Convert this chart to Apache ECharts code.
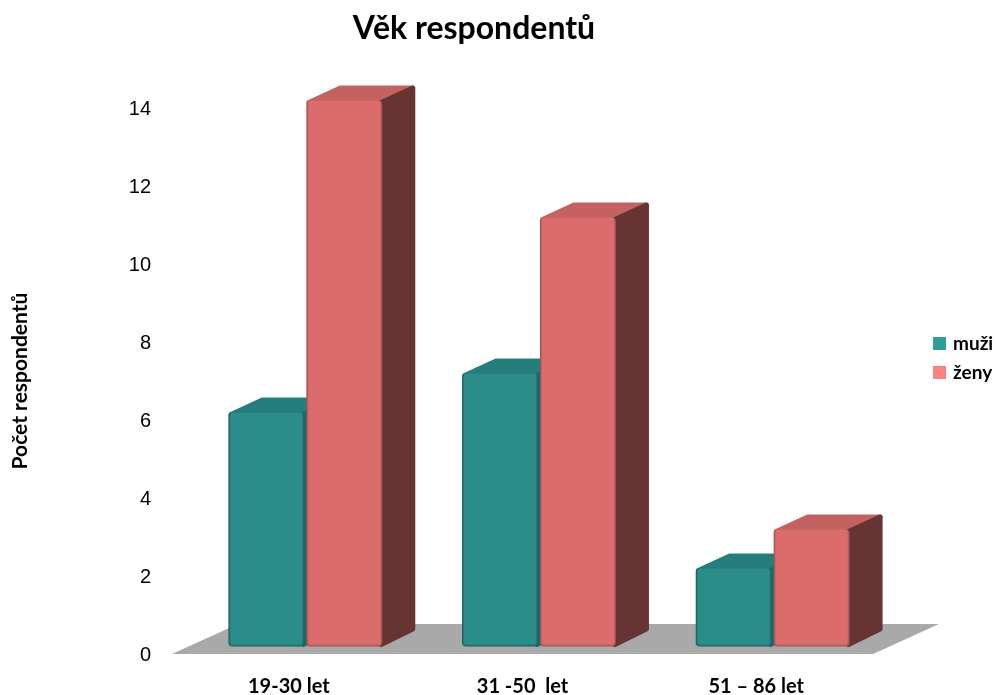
<!DOCTYPE html>
<html>
<head>
<meta charset="utf-8">
<style>html,body{margin:0;padding:0;background:#fff}#chart{width:996px;height:695px}</style>
<script src="https://cdn.jsdelivr.net/npm/echarts@6/dist/echarts.min.js"></script>
</head>
<body>
<div id="chart"></div>
<script>
// Age groups and respondent counts
const categories = ['19-30 let', '31 -50  let', '51 – 86 let'];
const muzi = [6, 7, 2];
const zeny = [14, 11, 3];
const yTicks = [0, 14, 2];

// Oblique projection of the depth axis
const FLOOR_DX = 66, FLOOR_DY = 30;
const BAR_DX = 33, BAR_DY = 15;
const BAR_RATIO = 0.325;

const palette = {
  muzi: { legend: '#2F9E9B', face: '#2B8C8A', mid: '#26797A', edge: '#1F6162', top: '#267E7C', side: '#1F6A69' },
  zeny: { legend: '#FF8080', face: '#DC6C6C', mid: '#C46262', edge: '#9E5252', top: '#C46262', side: '#663432' }
};

// Draws one 3D-looking column: top and side faces, then a bevelled front
function columnRenderer(colors, slot) {
  return function (params, api) {
    const catWidth = api.size([1, 0])[0];
    const barWidth = catWidth * BAR_RATIO;
    const gap = 1;
    const base = api.coord([api.value(0), 0]);
    const head = api.coord([api.value(0), api.value(1)]);
    const cx = base[0] + FLOOR_DX / 4;
    const x0 = slot === 0 ? cx - gap - barWidth : cx + gap;
    const x1 = x0 + barWidth;
    const yb = base[1] - FLOOR_DY / 4;
    const yt = head[1] - FLOOR_DY / 4;
    const round = { lineJoin: 'round', lineWidth: 5 };
    const frontLayer = (inset, fill, r) => ({
      type: 'rect',
      shape: { x: x0 + inset, y: yt, width: barWidth - inset * 2, height: yb - yt - inset, r: r },
      style: { fill: fill }
    });
    return {
      type: 'group',
      children: [
        {
          type: 'polygon',
          shape: { points: [[x0 + 2.5, yt + 2], [x0 + BAR_DX + 1, yt - BAR_DY + 2.5], [x1 + BAR_DX - 2.5, yt - BAR_DY + 2.5], [x1, yt + 2]] },
          style: Object.assign({ fill: colors.top, stroke: colors.top }, round)
        },
        {
          type: 'polygon',
          shape: { points: [[x1 - 1, yt + 2], [x1 + BAR_DX - 2.5, yt - BAR_DY + 2.5], [x1 + BAR_DX - 2.5, yb - BAR_DY - 2.5], [x1 - 1, yb - 2]] },
          style: Object.assign({ fill: colors.side, stroke: colors.side }, round)
        },
        frontLayer(0, colors.edge, 4),
        frontLayer(1, colors.mid, 3),
        frontLayer(2, colors.face, 2)
      ]
    };
  };
}

// Grey parallelogram the columns stand on, spanning the plot width
function floorRenderer(params) {
  const g = params.coordSys;
  const yb = g.y + g.height;
  const xl = g.x, xr = g.x + g.width;
  return {
    type: 'polygon',
    shape: { points: [[xl, yb], [xr, yb], [xr + FLOOR_DX, yb - FLOOR_DY], [xl + FLOOR_DX, yb - FLOOR_DY]] },
    style: { fill: '#A9A9A9' }
  };
}

const chart = echarts.init(document.getElementById('chart'), null, { renderer: 'canvas' });
chart.setOption({
  animation: false,
  backgroundColor: '#ffffff',
  title: {
    text: 'Věk respondentů',
    left: 469, top: 8, textAlign: 'center',
    textStyle: { fontFamily: 'Lato', fontWeight: 'bold', fontSize: 32, color: '#000' }
  },
  legend: {
    orient: 'vertical',
    left: 933, top: 334, padding: 0,
    itemWidth: 13, itemHeight: 13, itemGap: 10,
    icon: 'rect',
    data: ['muži', 'ženy'],
    textStyle: { fontFamily: 'Lato', fontWeight: 'bold', fontSize: 19, color: '#000', padding: [0, 0, 0, 2] }
  },
  grid: { left: 172, top: 108, width: 701, height: 546, outerBoundsMode: 'none' },
  xAxis: {
    type: 'category',
    data: categories,
    axisLine: { show: false },
    axisTick: { show: false },
    axisLabel: { fontFamily: 'Lato', fontWeight: 'bold', fontSize: 20, color: '#000', margin: 23 }
  },
  yAxis: {
    type: 'value',
    min: yTicks[0], max: yTicks[1], interval: yTicks[2],
    name: 'Počet respondentů',
    nameLocation: 'middle',
    nameGap: 141,
    nameTextStyle: { fontFamily: 'Lato', fontWeight: 'bold', fontSize: 21, color: '#000' },
    axisLine: { show: false },
    axisTick: { show: false },
    splitLine: { show: false },
    axisLabel: {
      color: '#000', margin: 21,
      formatter: '{v|{value}}',
      rich: { v: { fontFamily: 'Liberation Sans', fontSize: 20, color: '#000', padding: [3, 0, 0, 0] } }
    }
  },
  series: [
    {
      name: 'podlaha',
      type: 'custom',
      silent: true,
      renderItem: floorRenderer,
      data: [[0, 0]],
      encode: { x: 0, y: 1 },
      z: 1
    },
    {
      name: 'muži',
      type: 'custom',
      renderItem: columnRenderer(palette.muzi, 0),
      itemStyle: { color: palette.muzi.legend },
      data: categories.map((c, i) => [i, muzi[i]]),
      encode: { x: 0, y: 1 },
      z: 2
    },
    {
      name: 'ženy',
      type: 'custom',
      renderItem: columnRenderer(palette.zeny, 1),
      itemStyle: { color: palette.zeny.legend },
      data: categories.map((c, i) => [i, zeny[i]]),
      encode: { x: 0, y: 1 },
      z: 3
    }
  ]
});
</script>
</body>
</html>
